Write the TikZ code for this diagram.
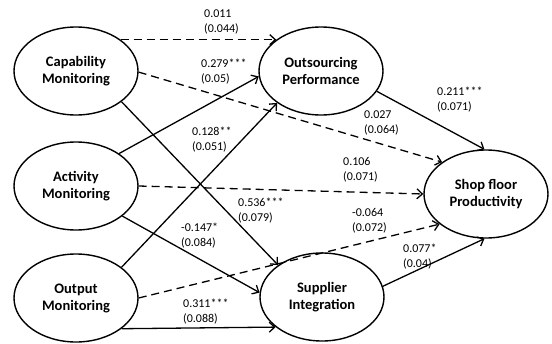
\documentclass[tikz,border=0pt]{standalone}
\usepackage{fontspec}
\setmainfont{Carlito}
\usetikzlibrary{shapes.geometric,arrows.meta}
\tikzset{
  construct/.style={ellipse, draw, line width=1.4pt, minimum width=124pt, minimum height=88pt, inner sep=0pt, align=center, font=\fontsize{14.5}{17}\selectfont\bfseries},
  coef/.style={anchor=west, inner sep=0pt, align=left, font=\fontsize{12}{15}\selectfont},
  path/.style={line width=1.3pt, -{Straight Barb[length=5.5pt,width=10pt]}},
  nspath/.style={path, dash pattern=on 8pt off 5pt}
}
\begin{document}
\begin{tikzpicture}[x=1pt,y=-1pt]
\useasboundingbox (0,0) rectangle (552,343);
\node[construct] (cm) at (76,71) {Capability\\Monitoring};
\node[construct] (am) at (76,186) {Activity\\Monitoring};
\node[construct] (om) at (76,298) {Output\\Monitoring};
\node[construct] (op) at (321,71) {Outsourcing\\Performance};
\node[construct] (si) at (322,297) {Supplier\\Integration};
\node[construct] (sfp) at (486,194) {Shop floor\\Productivity};

\draw[nspath] (cm.35) -- (op.145);
\draw[nspath] (cm.-1) -- (sfp.144);
\draw[path] (cm.-34) -- (si.144);
\draw[path] (am.37) -- (op.185);
\draw[nspath] (am.0) -- (sfp.180);
\draw[path] (am.-33) -- (si.176);
\draw[path] (om.34) -- (op.216);
\draw[nspath] (om.0) -- (sfp.213);
\draw[path] (om.-34) -- (si.213);
\draw[path] (op.-20) -- (sfp.92);
\draw[path] (si.10) -- (sfp.-92);

\node[coef] (l1) at (204,21.5) {0.011\\(0.044)};
\node[coef] (l2) at (201,72) {0.279***\\(0.05)};
\node[coef] (l3) at (192,140) {0.128**\\(0.051)};
\node[coef] (l4) at (364,122.5) {0.027\\(0.064)};
\node[coef] (l5) at (437,99.5) {0.211***\\(0.071)};
\node[coef] (l6) at (343,169.5) {0.106\\(0.071)};
\node[coef] (l7) at (238,210.5) {0.536***\\(0.079)};
\node[coef] (l8) at (181,235.5) {-0.147*\\(0.084)};
\node[coef] (l9) at (352,221) {-0.064\\(0.072)};
\node[coef] (l10) at (403,257) {0.077*\\(0.04)};
\node[coef] (l11) at (183,311.5) {0.311***\\(0.088)};
\end{tikzpicture}
\end{document}
